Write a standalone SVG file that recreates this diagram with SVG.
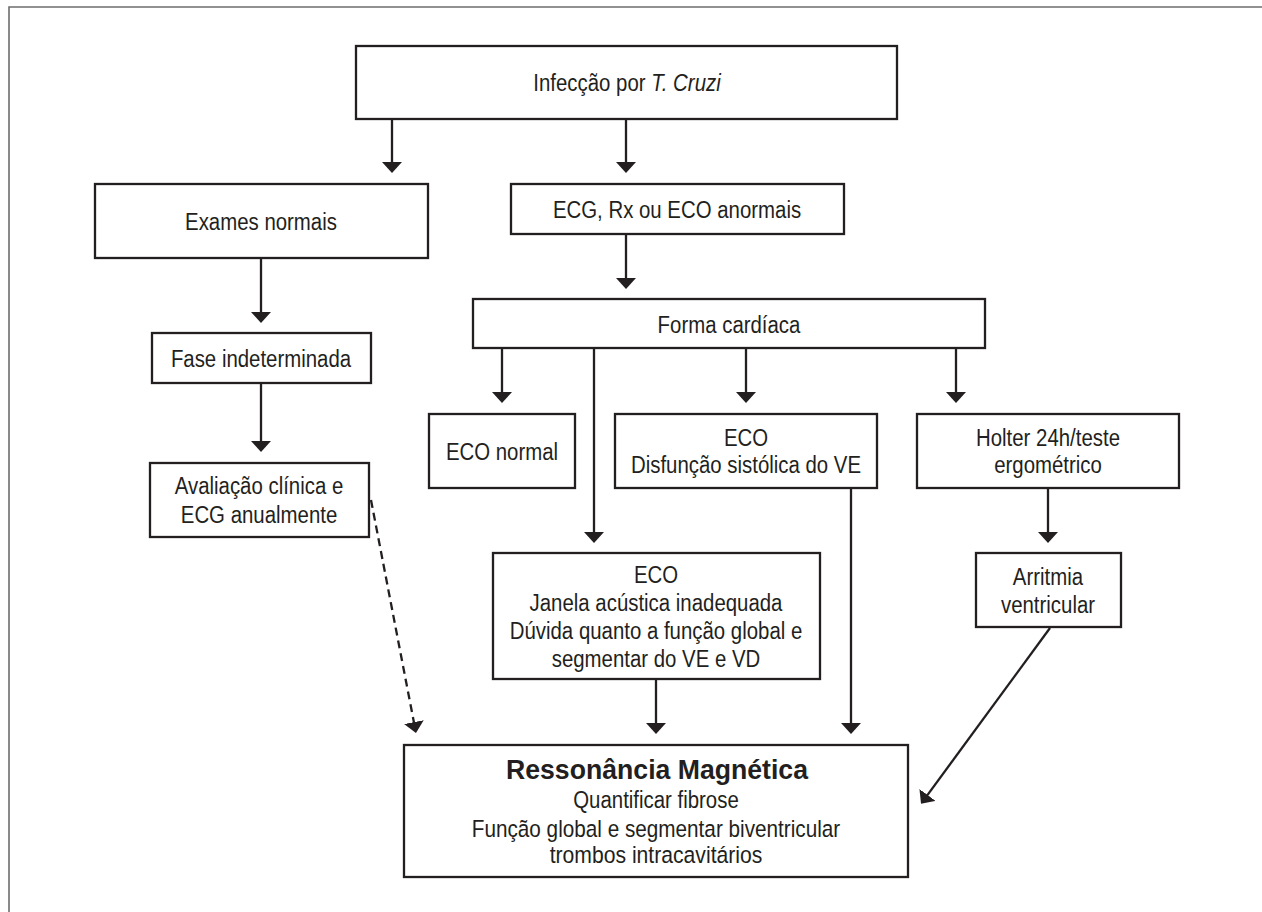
<svg xmlns="http://www.w3.org/2000/svg" width="1262" height="912" viewBox="0 0 1262 912">
  <style>
    .box { fill: #ffffff; stroke: #231f20; stroke-width: 2.3; }
    .lbl { font-family: "Liberation Sans", Arial, sans-serif; font-size: 23.5px; fill: #231f20; text-anchor: middle; }
    .title { font-weight: bold; font-size: 28.5px; }
    .conn { stroke: #231f20; stroke-width: 2.3; fill: none; }
    .dash { stroke-dasharray: 8 5; }
    .frame { stroke: #6d6d6d; stroke-width: 1.6; fill: none; }
  </style>
  <defs>
    <marker id="arrow" markerUnits="userSpaceOnUse" viewBox="0 0 11 20" markerWidth="11" markerHeight="20" refX="8" refY="10" orient="auto">
      <path d="M0,0 L11,10 L0,20 Z" fill="#231f20"/>
    </marker>
  </defs>

  <rect width="1262" height="912" fill="#ffffff"/>
  <!-- page frame (top and left rules) -->
  <path class="frame" d="M9,912 V7 H1262"/>

  <g id="connectors">
    <line class="conn" x1="392" y1="119" x2="392" y2="170" marker-end="url(#arrow)"/>
    <line class="conn" x1="626" y1="119" x2="626" y2="170" marker-end="url(#arrow)"/>
    <line class="conn" x1="261" y1="258" x2="261" y2="320" marker-end="url(#arrow)"/>
    <line class="conn" x1="626" y1="234" x2="626" y2="286" marker-end="url(#arrow)"/>
    <line class="conn" x1="261" y1="383" x2="261" y2="449" marker-end="url(#arrow)"/>
    <line class="conn" x1="502" y1="348" x2="502" y2="400" marker-end="url(#arrow)"/>
    <line class="conn" x1="746" y1="348" x2="746" y2="400" marker-end="url(#arrow)"/>
    <line class="conn" x1="956" y1="348" x2="956" y2="400" marker-end="url(#arrow)"/>
    <line class="conn" x1="594" y1="346" x2="594" y2="540" marker-end="url(#arrow)"/>
    <line class="conn" x1="1048" y1="488" x2="1048" y2="540" marker-end="url(#arrow)"/>
    <line class="conn" x1="656" y1="679" x2="656" y2="731" marker-end="url(#arrow)"/>
    <line class="conn" x1="851" y1="488" x2="851" y2="731" marker-end="url(#arrow)"/>
    <line class="conn dash" x1="371" y1="500" x2="415.4" y2="730" marker-end="url(#arrow)"/>
    <line class="conn" x1="1050" y1="628" x2="922.8" y2="801.4" marker-end="url(#arrow)"/>
  </g>

  <!-- labels are set in a horizontally condensed sans: scale(0.868 1) regular, scale(0.935 1) bold -->
  <g id="infeccao">
    <rect class="box" x="356" y="46" width="541" height="73"/>
    <text class="lbl" transform="translate(627 91) scale(0.868 1)">Infecção por <tspan font-style="italic">T. Cruzi</tspan></text>
  </g>
  <g id="exames-normais">
    <rect class="box" x="95" y="184" width="333" height="74"/>
    <text class="lbl" transform="translate(261 230) scale(0.868 1)">Exames normais</text>
  </g>
  <g id="ecg-anormais">
    <rect class="box" x="511" y="184" width="333" height="50"/>
    <text class="lbl" transform="translate(677 218) scale(0.868 1)">ECG, Rx ou ECO anormais</text>
  </g>
  <g id="forma-cardiaca">
    <rect class="box" x="473" y="299" width="512" height="49"/>
    <text class="lbl" transform="translate(729 333) scale(0.868 1)">Forma cardíaca</text>
  </g>
  <g id="fase-indeterminada">
    <rect class="box" x="152" y="333" width="219" height="50"/>
    <text class="lbl" transform="translate(261 367) scale(0.868 1)">Fase indeterminada</text>
  </g>
  <g id="avaliacao">
    <rect class="box" x="150" y="463" width="219" height="74"/>
    <text class="lbl" transform="translate(259 494) scale(0.868 1)">Avaliação clínica e</text>
    <text class="lbl" transform="translate(259 523) scale(0.868 1)">ECG anualmente</text>
  </g>
  <g id="eco-normal">
    <rect class="box" x="429" y="414" width="146" height="74"/>
    <text class="lbl" transform="translate(502 460) scale(0.868 1)">ECO normal</text>
  </g>
  <g id="eco-disfuncao">
    <rect class="box" x="615" y="414" width="262" height="74"/>
    <text class="lbl" transform="translate(746 446) scale(0.868 1)">ECO</text>
    <text class="lbl" transform="translate(746 473) scale(0.868 1)">Disfunção sistólica do VE</text>
  </g>
  <g id="holter">
    <rect class="box" x="917" y="414" width="262" height="74"/>
    <text class="lbl" transform="translate(1048 446) scale(0.868 1)">Holter 24h/teste</text>
    <text class="lbl" transform="translate(1048 473) scale(0.868 1)">ergométrico</text>
  </g>
  <g id="eco-janela">
    <rect class="box" x="493" y="553" width="327" height="126"/>
    <text class="lbl" transform="translate(656 583) scale(0.868 1)">ECO</text>
    <text class="lbl" transform="translate(656 611) scale(0.868 1)">Janela acústica inadequada</text>
    <text class="lbl" transform="translate(656 639) scale(0.868 1)">Dúvida quanto a função global e</text>
    <text class="lbl" transform="translate(656 667) scale(0.868 1)">segmentar do VE e VD</text>
  </g>
  <g id="arritmia">
    <rect class="box" x="976" y="553" width="145" height="74"/>
    <text class="lbl" transform="translate(1048 585) scale(0.868 1)">Arritmia</text>
    <text class="lbl" transform="translate(1048 613) scale(0.868 1)">ventricular</text>
  </g>
  <g id="ressonancia">
    <rect class="box" x="404" y="745" width="504" height="132"/>
    <text class="lbl title" transform="translate(657 779) scale(0.935 1)">Ressonância Magnética</text>
    <text class="lbl" transform="translate(656 808) scale(0.868 1)">Quantificar fibrose</text>
    <text class="lbl" transform="translate(656 837) scale(0.882 1)">Função global e segmentar biventricular</text>
    <text class="lbl" transform="translate(656 863) scale(0.9 1)">trombos intracavitários</text>
  </g>
</svg>
